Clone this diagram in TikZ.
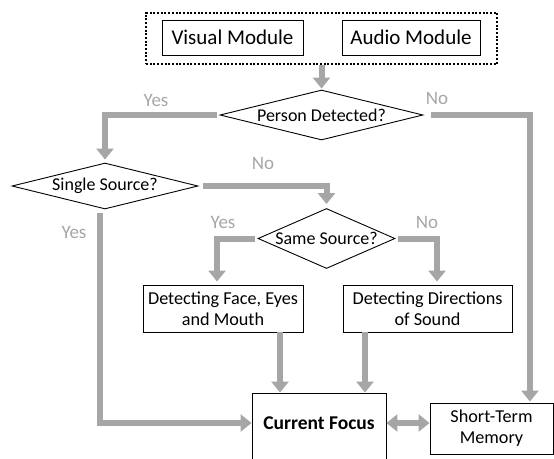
\documentclass[tikz,border=0pt]{standalone}
\usepackage{fontspec}
\setmainfont{Carlito}
\usetikzlibrary{shapes.geometric,arrows.meta}
\definecolor{flowgray}{RGB}{166,166,166}
\tikzset{
  box/.style={draw=black, line width=0.9pt, fill=white, inner sep=0pt, align=center, font=\fontsize{18.2}{21}\selectfont},
  modbox/.style={box, font=\fontsize{21}{24}\selectfont},
  decision/.style={draw=black, line width=0.9pt, shape=diamond, inner sep=0pt},
  dtext/.style={font=\fontsize{18}{20}\selectfont, inner sep=0pt},
  flow/.style={draw=flowgray, line width=6pt, -{Triangle[width=17pt,length=11pt]}},
  flowboth/.style={draw=flowgray, line width=6pt, {Triangle[width=17pt,length=11pt]}-{Triangle[width=17pt,length=11pt]}},
  answer/.style={text=flowgray, font=\fontsize{19}{22}\selectfont, inner sep=0pt}
}
\begin{document}
\begin{tikzpicture}[x=1pt, y=-1pt]
\useasboundingbox (0,0) rectangle (554,458);

% input modules inside a dotted frame
\node[draw=black, line width=2.6pt, dash pattern=on 2pt off 1.7pt, minimum width=351pt, minimum height=51pt, inner sep=0pt] (inputs) at (321.5,38.5) {};
\node[modbox, minimum width=141pt, minimum height=35pt] (visual) at (232.5,37.5) {Visual Module};
\node[modbox, minimum width=138pt, minimum height=35pt] (audio) at (411,37.5) {Audio Module};

% decisions
\node[decision, minimum width=203pt, minimum height=50pt] (person) at (321.5,115) {};
\node[dtext] (persontext) at (person) {Person Detected?};
\node[decision, minimum width=186pt, minimum height=46pt] (single) at (105,186) {};
\node[dtext] (singletext) at (single) {Single Source?};
\node[decision, minimum width=137pt, minimum height=60pt] (same) at (326.5,238.5) {};
\node[dtext] (sametext) at (same) {Same Source?};

% processing boxes
\node[box, minimum width=160pt, minimum height=47pt] (face) at (223,308.5) {Detecting Face, Eyes\\and Mouth};
\node[box, minimum width=169pt, minimum height=47pt] (sound) at (427.5,308.5) {Detecting Directions\\of Sound};
\node[box, minimum width=134pt, minimum height=80pt] (focus) at (319,433) {};
\node[font=\bfseries\fontsize{19.5}{22}\selectfont, inner sep=0pt] (focustext) at (319,423) {Current Focus};
\node[box, minimum width=123pt, minimum height=51pt] (memory) at (491.5,428.5) {Short-Term\\Memory};

% columns and rows used by the connectors
\coordinate (colno) at (530,0);
\coordinate (colsingle) at (100,0);
\coordinate (colface) at (217,0);
\coordinate (colsound) at (437,0);
\coordinate (colf1) at (280,0);
\coordinate (colf2) at (365,0);
\coordinate (rowfocus) at (0,423);

% connectors
\draw[flow, shorten >=1pt] (inputs.south) -- (person.north);
\draw[flow, shorten <=3pt, shorten >=3pt] (person.west) -| (single.north);
\draw[flow, shorten <=8pt, shorten >=1pt] (person.east) -| (memory.north -| colno);
\draw[flow, shorten <=5pt, shorten >=4pt] (single.east) -| (same.north);
\draw[flow, shorten <=3pt, shorten >=3pt] (same.west) -| (face.north -| colface);
\draw[flow, shorten <=3pt, shorten >=3pt] (same.east) -| (sound.north -| colsound);
\draw[flow, shorten <=4pt] (single.south -| colsingle) |- (focus.west |- rowfocus);
\draw[flow] (face.south -| colf1) -- (focus.north -| colf1);
\draw[flow] (sound.south -| colf2) -- (focus.north -| colf2);
\draw[flowboth] (focus.east |- rowfocus) -- (memory.west |- rowfocus);

% branch answers
\node[answer] (yes1) at (156,100) {Yes};
\node[answer] (no1) at (437,98) {No};
\node[answer] (no2) at (263,163) {No};
\node[answer] (yes2) at (74,232) {Yes};
\node[answer] (yes3) at (223,222) {Yes};
\node[answer] (no3) at (427,222) {No};
\end{tikzpicture}
\end{document}
